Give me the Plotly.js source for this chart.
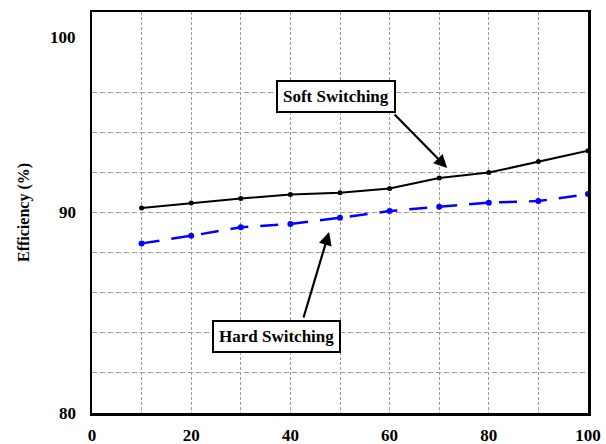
<!DOCTYPE html>
<html>
<head>
<meta charset="utf-8">
<script src="https://cdn.plot.ly/plotly-3.0.1.min.js"></script>
<style>
  html, body { margin: 0; padding: 0; background: #fff; }
  #chart { width: 606px; height: 444px; }
</style>
</head>
<body>
<div id="chart"></div>
<script>
// Output power (%) and measured efficiency (%) for both switching modes
const loadPct = [10, 20, 30, 40, 50, 60, 70, 80, 90, 100];
const softSwitching = [90.22, 90.47, 90.70, 90.90, 90.99, 91.20, 91.72, 91.99, 92.54, 93.08];
const hardSwitching = [88.46, 88.84, 89.26, 89.43, 89.74, 90.07, 90.29, 90.49, 90.57, 90.92];

// Axis ticks and gridlines
const xTickVals = [0, 10, 20, 30, 40, 50, 60, 70, 80, 90, 100];
const xTickText = ['0', '', '20', '', '40', '', '60', '', '80', '', '100'];
const yTickVals = [80, 82, 84, 86, 88, 90, 92, 94, 96];
const yTickText = ['80', '', '', '', '', '90', '', '', ''];

const serifBold = 'Liberation Serif, Times New Roman, serif';

const traces = [
  {
    x: loadPct, y: softSwitching, name: 'Soft Switching',
    type: 'scatter', mode: 'lines+markers',
    line: { color: '#000000', width: 2 },
    marker: { color: '#000000', size: 5 }
  },
  {
    x: loadPct, y: hardSwitching, name: 'Hard Switching',
    type: 'scatter', mode: 'lines+markers',
    line: { color: '#0000ff', width: 2.5, dash: '18px,12px' },
    marker: { color: '#0000ff', size: 6 }
  }
];

const layout = {
  width: 606, height: 444,
  margin: { l: 92, r: 18, t: 12, b: 31 },
  paper_bgcolor: '#ffffff', plot_bgcolor: '#ffffff',
  showlegend: false,
  font: { family: serifBold, size: 17, color: '#000' },
  xaxis: {
    range: [0, 100], tickmode: 'array', tickvals: xTickVals, ticktext: xTickText,
    showgrid: true, gridcolor: '#999999', gridwidth: 1, griddash: '3px,2px',
    zeroline: false, showline: true, linecolor: '#000', linewidth: 2.5, mirror: true,
    ticks: 'outside', ticklen: 5, tickcolor: 'rgba(0,0,0,0)',
    tickfont: { family: serifBold, size: 17, color: '#000', weight: 'bold' }
  },
  yaxis: {
    range: [80, 100], tickmode: 'array', tickvals: yTickVals, ticktext: yTickText,
    showgrid: true, gridcolor: '#999999', gridwidth: 1, griddash: '5px,3px',
    zeroline: false, showline: true, linecolor: '#000', linewidth: 2.5, mirror: true,
    ticks: 'outside', ticklen: 10, tickcolor: 'rgba(0,0,0,0)',
    tickfont: { family: serifBold, size: 17, color: '#000', weight: 'bold' },
    title: {
      text: 'Efficiency (%)', standoff: 26,
      font: { family: serifBold, size: 16, color: '#000', weight: 'bold' }
    }
  },
  annotations: [
    // top y label sits a little below the frame edge
    {
      xref: 'paper', yref: 'y', x: 0, y: 100, xanchor: 'right', yanchor: 'middle',
      xshift: -14, yshift: -25, showarrow: false, text: '100',
      font: { family: serifBold, size: 17, color: '#000', weight: 'bold' }
    },
    // callout boxes
    {
      xref: 'x', yref: 'y', x: 49.2, y: 95.79, showarrow: false,
      text: 'Soft Switching', xanchor: 'center', yanchor: 'middle',
      bordercolor: '#000', borderwidth: 2, borderpad: 5, bgcolor: '#ffffff',
      font: { family: serifBold, size: 17, color: '#000', weight: 'bold' }
    },
    {
      xref: 'x', yref: 'y', x: 37.1, y: 83.84, showarrow: false,
      text: 'Hard Switching', xanchor: 'center', yanchor: 'middle',
      bordercolor: '#000', borderwidth: 2, borderpad: 5, bgcolor: '#ffffff',
      font: { family: serifBold, size: 17, color: '#000', weight: 'bold' }
    },
    // pointer arrows
    {
      xref: 'x', yref: 'y', x: 71.6, y: 92.22, text: '', showarrow: true,
      ax: -54, ay: -55, arrowhead: 2, arrowsize: 1.2, arrowwidth: 2.2, arrowcolor: '#000'
    },
    {
      xref: 'x', yref: 'y', x: 47.8, y: 89.03, text: '', showarrow: true,
      ax: -26, ay: 87, arrowhead: 2, arrowsize: 1.2, arrowwidth: 2.2, arrowcolor: '#000'
    }
  ]
};

Plotly.newPlot('chart', traces, layout, { displayModeBar: false, staticPlot: true });
</script>
</body>
</html>
